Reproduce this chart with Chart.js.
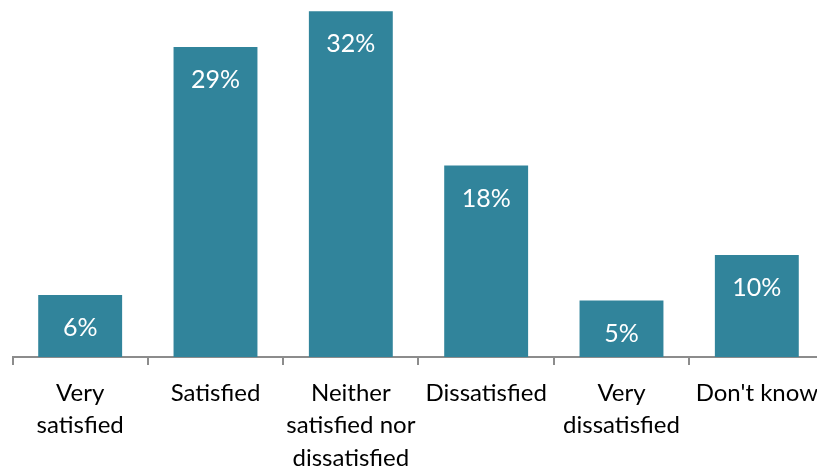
<!DOCTYPE html>
<html>
<head>
<meta charset="utf-8">
<script src="https://cdn.jsdelivr.net/npm/chart.js@4"></script>
<style>
    html, body { margin: 0; padding: 0; background: #fff; overflow: hidden; }
    #wrap { position: absolute; left: 0; top: 0; width: 830px; height: 468px; }
</style>
</head>
<body>
<div id="wrap"><canvas id="satisfactionChart"></canvas></div>
<script>
const categories = [
    ['Very', 'satisfied'],
    'Satisfied',
    ['Neither', 'satisfied nor', 'dissatisfied'],
    'Dissatisfied',
    ['Very', 'dissatisfied'],
    "Don't know"
];
const shares = [5.8, 29.05, 32.4, 17.95, 5.3, 9.55];
const yMax = 33.46;

// etiketler çubuğun içinde, üst kenarın biraz altında
const barLabels = {
    id: 'barLabels',
    afterDatasetsDraw(chart) {
        const ctx = chart.ctx;
        const meta = chart.getDatasetMeta(0);
        ctx.save();
        ctx.fillStyle = '#ffffff';
        ctx.font = '25px Lato';
        ctx.textAlign = 'center';
        ctx.textBaseline = 'middle';
        meta.data.forEach((bar, i) => {
            ctx.fillText(Math.round(shares[i]) + '%', bar.x, bar.y + 33);
        });
        ctx.restore();
    }
};

new Chart(document.getElementById('satisfactionChart'), {
    type: 'bar',
    data: {
        labels: categories,
        datasets: [{
            data: shares,
            backgroundColor: '#31849B',
            barPercentage: 0.62,
            categoryPercentage: 1
        }]
    },
    options: {
        responsive: true,
        maintainAspectRatio: false,
        animation: false,
        layout: { padding: { left: 12.5, top: 0, right: 0, bottom: 0 } },
        plugins: {
            legend: { display: false },
            tooltip: { enabled: false }
        },
        scales: {
            x: {
                grid: {
                    offset: true,
                    drawOnChartArea: false,
                    drawTicks: true,
                    tickLength: 8,
                    color: '#8c8c8c',
                    lineWidth: 2
                },
                border: { color: '#8c8c8c', width: 2 },
                ticks: {
                    color: '#000000',
                    font: { family: 'Lato', size: 24, lineHeight: 1.35 },
                    padding: 12,
                    maxRotation: 0,
                    autoSkip: false
                },
                afterFit(scale) { scale.height = 111; }
            },
            y: {
                display: false,
                min: 0,
                max: yMax
            }
        }
    },
    plugins: [barLabels]
});
</script>
</body>
</html>
